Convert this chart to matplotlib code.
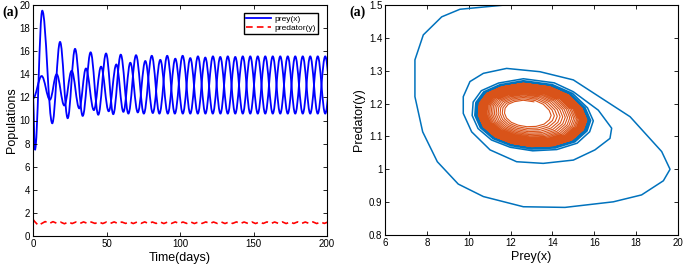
import numpy as np
import matplotlib
matplotlib.use('Agg')
import matplotlib.pyplot as plt
from matplotlib.path import Path
from matplotlib.patches import PathPatch
from matplotlib.lines import Line2D

plt.rcParams['font.family'] = ['Liberation Sans', 'DejaVu Sans']

# ---- left panel: time series (extrema) ----
prey1_t = [0, 1.3, 6.3, 13.1, 18.4, 23.6, 28.6, 33.8, 39.2, 44.4, 49.7, 54.6, 59.7, 64.9,
           70.1, 75.4, 80.8, 86.0, 91.3, 96.5, 101.8, 107.0, 112.2, 117.3, 122.4, 127.5,
           132.5, 137.6, 142.7, 147.8, 152.9, 158.0, 163.1, 168.2, 173.3, 178.4, 183.5,
           188.6, 193.7, 198.8, 203.9]
prey1_v = [11.9, 7.45, 19.5, 9.76, 16.8, 10.2, 16.2, 10.4, 15.9, 10.5, 15.8, 10.55, 15.7, 10.6,
           15.65, 10.6, 15.6, 10.6, 15.6, 10.6, 15.6, 10.6, 15.55, 10.6, 15.55, 10.6,
           15.55, 10.6, 15.55, 10.6, 15.55, 10.6, 15.55, 10.6, 15.55, 10.6, 15.55,
           10.6, 15.55, 10.6, 15.55]

prey2_t = [0, 5.9, 11.5, 16.1, 21.3, 26.3, 31.5, 36.0, 41.4, 46.3, 51.5, 56.7, 61.5, 66.2,
           71.3, 76.4, 81.5, 86.6, 91.7, 96.8, 101.9, 107.0, 112.1, 117.2, 122.3, 127.4,
           132.5, 137.6, 142.7, 147.8, 152.9, 158.0, 163.1, 168.2, 173.3, 178.4, 183.5,
           188.6, 193.7, 198.8, 203.9]
prey2_v = [11.9, 13.85, 11.8, 14.0, 11.3, 14.3, 11.05, 14.5, 10.9, 14.66, 10.8, 14.85, 10.75, 15.0,
           10.7, 15.15, 10.65, 15.25, 10.6, 15.35, 10.6, 15.4, 10.6, 15.45, 10.6, 15.5,
           10.6, 15.5, 10.6, 15.55, 10.6, 15.55, 10.6, 15.55, 10.6, 15.55, 10.6,
           15.55, 10.6, 15.55, 10.6]

pred_t = [0, 0.8, 3.6, 8.3, 11.0, 13.6, 16.2, 18.8, 21.4, 24.0, 26.6, 29.2, 31.8, 34.4,
          37.0, 39.6, 42.2, 44.8, 47.4, 50.0, 52.6, 55.2, 57.8, 60.4, 63.0, 65.6, 68.2,
          70.8, 73.4, 76.0, 78.6, 81.2, 83.8, 86.4, 89.0, 91.6, 94.2, 96.8, 99.4, 102.0,
          104.6, 107.2, 109.8, 112.4, 115.0, 117.6, 120.2, 122.8, 125.4, 128.0, 130.6,
          133.2, 135.8, 138.4, 141.0, 143.6, 146.2, 148.8, 151.4, 154.0, 156.6, 159.2,
          161.8, 164.4, 167.0, 169.6, 172.2, 174.8, 177.4, 180.0, 182.6, 185.2, 187.8,
          190.4, 193.0, 195.6, 198.2, 200.8]
pred_v = [1.45, 1.3, 0.92, 1.25, 1.08, 1.24, 1.1, 1.2, 1.06, 1.22, 1.08, 1.21, 1.08, 1.22,
          1.09, 1.21, 1.09, 1.22, 1.08, 1.21, 1.09, 1.22, 1.08, 1.21, 1.09, 1.22, 1.08,
          1.21, 1.09, 1.22, 1.08, 1.21, 1.09, 1.22, 1.08, 1.21, 1.09, 1.22, 1.08, 1.21,
          1.09, 1.22, 1.08, 1.21, 1.09, 1.22, 1.08, 1.21, 1.09, 1.22, 1.08, 1.21,
          1.09, 1.22, 1.08, 1.21, 1.09, 1.22, 1.08, 1.21, 1.09, 1.22, 1.08, 1.21,
          1.09, 1.22, 1.08, 1.21, 1.09, 1.22, 1.08, 1.21, 1.09, 1.22, 1.08, 1.21,
          1.09, 1.22]

# ---- right panel: phase portrait ----
outer_x = [11.9, 9.58, 8.71, 7.83, 7.43, 7.43, 7.80, 8.50, 9.50, 10.7, 12.61, 14.6, 16.91,
           18.26, 19.3, 19.62, 19.22, 17.71, 15.0, 13.4, 11.81, 10.7, 10.06, 9.74, 9.74,
           10.14, 11.02, 12.29, 13.56, 15.0, 16.03, 16.75, 16.83, 16.19, 15.0]
outer_y = [1.501, 1.487, 1.464, 1.409, 1.333, 1.221, 1.114, 1.023, 0.955, 0.917, 0.886, 0.884,
           0.901, 0.922, 0.965, 1.0, 1.054, 1.16, 1.272, 1.297, 1.307, 1.292, 1.267, 1.221,
           1.17, 1.114, 1.059, 1.023, 1.018, 1.028, 1.059, 1.094, 1.125, 1.18, 1.236]

# limit cycle outline (boundary of the orange band)
cycle_x = [13.88, 12.61, 11.58, 10.86, 10.51, 10.46, 10.70, 11.26, 12.05, 13.01, 14.04,
           14.92, 15.47, 15.64, 15.40, 14.76]
cycle_y = [1.251, 1.262, 1.251, 1.231, 1.201, 1.165, 1.130, 1.099, 1.079, 1.069, 1.072,
           1.089, 1.120, 1.150, 1.186, 1.226]
cycle_center = (12.6, 1.175)

# relative size of each successive loop
blue_loops = [1.16, 1.09, 1.055, 1.035, 1.022, 1.014, 1.008, 1.004, 1.0]
orange_loops = [0.40, 0.45, 0.50, 0.545, 0.59, 0.63, 0.67, 0.705, 0.74, 0.77, 0.80, 0.825,
                0.85, 0.87, 0.89, 0.905, 0.92, 0.932, 0.944, 0.955, 0.964,
                0.972, 0.979, 0.985, 0.99, 0.994, 0.997, 1.0]


def smooth_path(t, v, k=0.37):
    """Bezier curve through the extrema, flat at every turning point"""
    verts = [(t[0], v[0])]
    codes = [Path.MOVETO]
    for i in range(len(t) - 1):
        dt = t[i + 1] - t[i]
        verts += [(t[i] + k * dt, v[i]), (t[i + 1] - k * dt, v[i + 1]), (t[i + 1], v[i + 1])]
        codes += [Path.CURVE4] * 3
    return Path(verts, codes)


def loops(scales):
    """chain the cycle outline at the given sizes into one spiral"""
    cx, cy = cycle_center
    bx = np.array(cycle_x) - cx
    by = np.array(cycle_y) - cy
    n = len(bx)
    xs, ys = [], []
    for i, s in enumerate(scales):
        s_next = scales[i + 1] if i + 1 < len(scales) else s
        sc = s + (s_next - s) * np.arange(n) / n
        xs.append(cx + sc * bx)
        ys.append(cy + sc * by)
    return np.concatenate(xs), np.concatenate(ys)


def style(ax):
    ax.tick_params(direction='in', top=True, right=True, labelsize=7, length=3, width=0.6,
                   pad=2)
    for sp in ax.spines.values():
        sp.set_linewidth(0.8)


fig = plt.figure(figsize=(6.85, 2.7), dpi=100)

ax1 = fig.add_axes([33 / 685, 34 / 270, 294 / 685, 231 / 270])
ax1.add_patch(PathPatch(smooth_path(prey1_t, prey1_v), fill=False, ec='#0000ff', lw=1.3))
ax1.add_patch(PathPatch(smooth_path(prey2_t, prey2_v), fill=False, ec='#0000ff', lw=1.3))
ax1.plot(pred_t, pred_v, color='#ff0000', ls=(0, (4, 2.5)), lw=1.2)
ax1.set_xlim(0, 200)
ax1.set_ylim(0, 20)
ax1.set_xticks([0, 50, 100, 150, 200])
ax1.set_yticks(range(0, 21, 2))
ax1.set_xlabel('Time(days)', fontsize=9, labelpad=2)
ax1.set_ylabel('Populations', fontsize=9, labelpad=1)
style(ax1)
handles = [Line2D([], [], color='#0000ff', lw=1.3),
           Line2D([], [], color='#ff0000', lw=1.2, ls=(0, (4, 2.5)))]
ax1.legend(handles, ['prey(x)', 'predator(y)'], loc='upper right', fontsize=6,
           frameon=True, fancybox=False, edgecolor='black', framealpha=1,
           handlelength=3.0, borderpad=0.25, labelspacing=0.15, handletextpad=0.4,
           borderaxespad=0, bbox_to_anchor=(0.968, 0.965))

ax2 = fig.add_axes([385 / 685, 35 / 270, 293 / 685, 230 / 270])
bx, by = loops(blue_loops)
ax2.plot(np.concatenate([outer_x, bx]), np.concatenate([outer_y, by]),
         color='#0072BD', lw=1.1)
ox, oy = loops(orange_loops)
ax2.plot(ox, oy, color='#D95319', lw=0.8)
ax2.set_xlim(6, 20)
ax2.set_ylim(0.8, 1.5)
ax2.set_xticks(range(6, 21, 2))
ax2.set_yticks([0.8, 0.9, 1.0, 1.1, 1.2, 1.3, 1.4, 1.5])
ax2.set_yticklabels(['0.8', '0.9', '1', '1.1', '1.2', '1.3', '1.4', '1.5'])
ax2.set_xlabel('Prey(x)', fontsize=9, labelpad=2)
ax2.set_ylabel('Predator(y)', fontsize=9, labelpad=3)
style(ax2)

fig.text(2 / 685, 1 - 12 / 270, '(a)', fontsize=10, fontweight='bold',
         family='Liberation Serif', va='center')
fig.text(349 / 685, 1 - 12 / 270, '(a)', fontsize=10, fontweight='bold',
         family='Liberation Serif', va='center')

fig.savefig('out.png', dpi=100)
